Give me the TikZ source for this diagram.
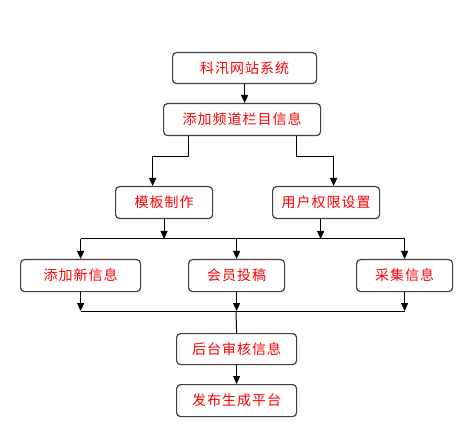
\documentclass[tikz,border=0pt]{standalone}
\usepackage{fontspec}
\newfontfamily\cjk[LetterSpace=7]{Noto Sans CJK SC}
\usetikzlibrary{arrows.meta}
\usetikzlibrary{positioning}
\tikzset{
    box/.style={draw=black!75, line width=1.2pt, rounded corners=4pt, fill=white,
        text=red, font=\cjk\fontsize{14}{14}\selectfont, inner sep=0pt, anchor=north west},
    link/.style={draw=black, line width=1pt, -{Triangle[width=7pt,length=8pt]}},
    linknoarrow/.style={draw=black, line width=1pt},
}
\begin{document}
\begin{tikzpicture}[x=1pt, y=-1pt]
	\useasboundingbox (0,0) rectangle (473,427);
	\node[box, minimum width=144pt, minimum height=31pt] (sys) at (172,52) {科汛网站系统};
	\node[box, minimum width=157pt, minimum height=32pt] (chan) at (163,103) {添加频道栏目信息};
	\node[box, minimum width=97pt, minimum height=32pt] (tpl) at (115,186) {模板制作};
	\node[box, minimum width=107pt, minimum height=32pt] (perm) at (272,186) {用户权限设置};
%
	\node[box, minimum width=120pt, minimum height=32pt] (add) at (20,259) {添加新信息};
	\node[box, minimum width=96pt, minimum height=32pt] (memb) at (188,259) {会员投稿};
	\node[box, minimum width=96pt, minimum height=32pt] (coll) at (356,259) {采集信息};
	\node[box, minimum width=120pt, minimum height=31pt] (audit) at (176,333) {后台审核信息};
	\node[box, minimum width=120pt, minimum height=32pt] (pub) at (176,384) {发布生成平台};
%
	\coordinate (busa) at (236,239);
	\coordinate (busb) at (236,311);
	\coordinate (chanl) at ([xshift=-53.5pt]chan.south);
	\coordinate (chanr) at ([xshift=54.5pt]chan.south);
	\coordinate (tplin) at ([xshift=-11.5pt]tpl.north);
	\coordinate (permin) at ([xshift=7.5pt]perm.north);
	\coordinate (permout) at ([xshift=-5.5pt]perm.south);
%
	\draw[link] (sys.south) -- (sys.south |- chan.north);
	\draw[link] (chanl) -- ++(0,20) -| (tplin);
	\draw[link] (chanr) -- ++(0,20) -| (permin);
	\draw[link] (tpl.south) -- (tpl.south |- busa);
	\draw[link] (permout) -- (permout |- busa);
	\draw[linknoarrow] (add.north |- busa) -- (coll.north |- busa);
	\draw[link] (add.north |- busa) -- (add.north);
	\draw[link] (memb.north |- busa) -- (memb.north);
	\draw[link] (coll.north |- busa) -- (coll.north);
%
	\draw[link] (add.south) -- (add.south |- busb);
	\draw[link] (memb.south) -- (memb.south |- busb);
	\draw[link] (coll.south) -- (coll.south |- busb);
	\draw[linknoarrow] (add.south |- busb) -- (coll.south |- busb);
	\draw[linknoarrow] (busb) -- (audit.north);
	\draw[link] (audit.south) -- (pub.north);
\end{tikzpicture}
\end{document}
